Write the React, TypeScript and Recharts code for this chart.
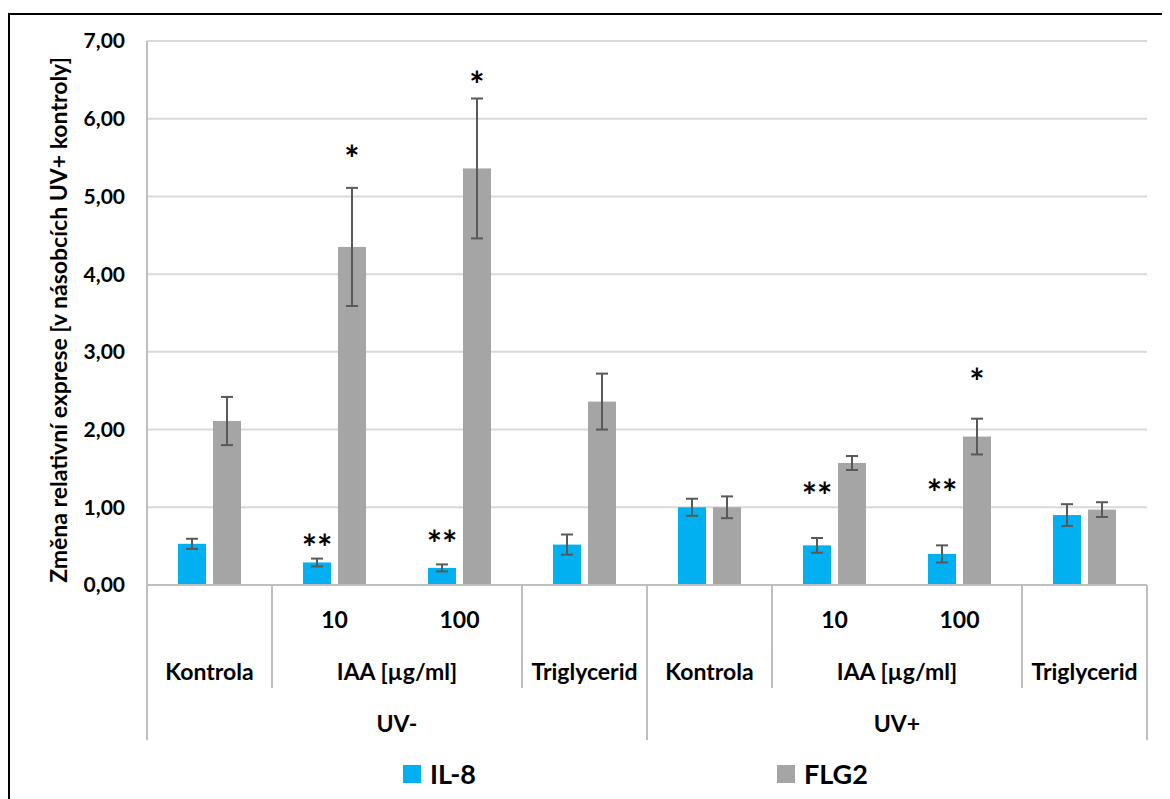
import React from 'react'
import {
  BarChart,
  Bar,
  XAxis,
  YAxis,
  CartesianGrid,
  ErrorBar,
  Legend,
} from 'recharts'

// category levels (innermost first)
const doses = ['', '10', '100', '', '', '10', '100', '']
const treatments = [
  'Kontrola',
  'IAA [µg/ml]',
  'IAA [µg/ml]',
  'Triglycerid',
  'Kontrola',
  'IAA [µg/ml]',
  'IAA [µg/ml]',
  'Triglycerid',
]
const uvGroups = ['UV-', 'UV-', 'UV-', 'UV-', 'UV+', 'UV+', 'UV+', 'UV+']

const il8 = [0.53, 0.29, 0.22, 0.52, 1.0, 0.51, 0.4, 0.9]
const il8Err = [0.065, 0.05, 0.045, 0.13, 0.11, 0.095, 0.11, 0.14]
const flg2 = [2.11, 4.35, 5.36, 2.36, 1.0, 1.57, 1.91, 0.97]
const flg2Err = [0.31, 0.76, 0.9, 0.36, 0.14, 0.09, 0.23, 0.095]

// significance marks and the level they sit at
const il8Stars = ['', '**', '**', '', '', '**', '**', '']
const il8StarAt = [0, 0.57, 0.62, 0, 0, 1.23, 1.28, 0]
const flg2Stars = ['', '*', '*', '', '', '', '*', '']
const flg2StarAt = [0, 5.57, 6.52, 0, 0, 0, 2.7, 0]

const yTicks = [0, 1, 2, 3, 4, 5, 6, 7]
const seriesOrder = ['IL-8', 'FLG2']

const data = doses.map((d, i) => ({
  dose: d,
  il8: il8[i],
  il8Err: il8Err[i],
  flg2: flg2[i],
  flg2Err: flg2Err[i],
  il8Star: il8Stars[i],
  il8StarAt: il8StarAt[i],
  flg2Star: flg2Stars[i],
  flg2StarAt: flg2StarAt[i],
}))

const FONT = 'Lato, "Open Sans", sans-serif'
const AXIS_GRAY = '#BFBFBF'

function starredBar(valueKey: string, starKey: string, atKey: string) {
  return (props: any) => {
    const { x, y, width, height, fill, payload } = props
    const v = payload[valueKey]
    const star = payload[starKey]
    let mark = null
    if (star && v) {
      const base = y + height
      const sy = base - (payload[atKey] / v) * height
      mark = (
        <text
          x={x + width / 2}
          y={sy + 20}
          textAnchor="middle"
          fontFamily={FONT}
          fontWeight={700}
          fontSize={36}
          fill="#000"
        >
          {star}
        </text>
      )
    }
    return (
      <g>
        <rect x={x} y={y} width={width} height={height} fill={fill} />
        {mark}
      </g>
    )
  }
}

function CategoryTick(props: any) {
  const { x, y, payload } = props
  const i = payload.index
  const half = payload.offset
  const n = doses.length
  const row1 = y + 35
  const row2 = y + 87
  const row3 = y + 139
  const shortEnd = y + 103
  const longEnd = y + 155
  const els: any[] = []
  const txt = { fontFamily: FONT, fontWeight: 700, fontSize: 23, fill: '#000', textAnchor: 'middle' as const }

  if (doses[i]) {
    els.push(
      <text key="d" x={x} y={row1} dy="0.35em" {...txt}>
        {doses[i]}
      </text>
    )
  }
  const newOuter = i === 0 || uvGroups[i] !== uvGroups[i - 1]
  const newMid = newOuter || treatments[i] !== treatments[i - 1]
  if (newMid) {
    let span = 1
    while (i + span < n && treatments[i + span] === treatments[i] && uvGroups[i + span] === uvGroups[i]) span++
    els.push(
      <text key="t" x={x + (span - 1) * half} y={row2} dy="0.35em" {...txt}>
        {treatments[i]}
      </text>
    )
    els.push(
      <line key="ls" x1={x - half} x2={x - half} y1={y} y2={newOuter ? longEnd : shortEnd} stroke={AXIS_GRAY} strokeWidth={2} />
    )
  }
  if (newOuter) {
    let span = 1
    while (i + span < n && uvGroups[i + span] === uvGroups[i]) span++
    els.push(
      <text key="u" x={x + (span - 1) * half} y={row3} dy="0.35em" {...txt}>
        {uvGroups[i]}
      </text>
    )
  }
  if (i === n - 1) {
    els.push(<line key="le" x1={x + half} x2={x + half} y1={y} y2={longEnd} stroke={AXIS_GRAY} strokeWidth={2} />)
  }
  return <g>{els}</g>
}

function LegendContent(props: any) {
  const items = [...(props.payload || [])].sort(
    (a: any, b: any) => seriesOrder.indexOf(a.value) - seriesOrder.indexOf(b.value)
  )
  return (
    <div style={{ height: 65, display: 'flex', alignItems: 'center', paddingLeft: 393, paddingTop: 2, boxSizing: 'border-box' }}>
      {items.map((p: any) => (
        <div key={p.value} style={{ width: 374, display: 'flex', alignItems: 'center' }}>
          <span style={{ width: 18, height: 18, background: p.color, display: 'inline-block', marginRight: 9 }} />
          <span style={{ fontFamily: FONT, fontWeight: 700, fontSize: 27, color: '#000' }}>{p.value}</span>
        </div>
      ))}
    </div>
  )
}

function YLabel(props: any) {
  const { viewBox } = props
  const cx = viewBox.x + 48
  const cy = viewBox.y + viewBox.height / 2 + 7
  return (
    <text
      x={cx}
      y={cy}
      transform={`rotate(-90, ${cx}, ${cy})`}
      textAnchor="middle"
      dominantBaseline="central"
      fontFamily={FONT}
      fontWeight={700}
      fontSize={23}
      fill="#000"
    >
      Změna relativní exprese [v násobcích UV+ kontroly]
    </text>
  )
}

export default function App() {
  return (
    <div
      style={{
        marginTop: 5,
        width: 1157,
        height: 800,
        border: '2px solid #000',
        background: '#fff',
      }}
    >
      <BarChart
        width={1157}
        height={790}
        data={data}
        margin={{ top: 26, right: 20, bottom: 0, left: 0 }}
        barSize={28}
        barGap={7}
      >
        <CartesianGrid vertical={false} stroke="#D9D9D9" strokeWidth={2} />
        <XAxis
          dataKey="dose"
          height={155}
          tickSize={0}
          tickMargin={0}
          tickLine={false}
          axisLine={{ stroke: AXIS_GRAY, strokeWidth: 2 }}
          tick={<CategoryTick />}
          interval={0}
        />
        <YAxis
          width={137}
          domain={[0, 7]}
          ticks={yTicks}
          tickFormatter={(v: number) => v.toFixed(2).replace('.', ',')}
          tickLine={false}
          tickSize={0}
          tickMargin={22}
          axisLine={{ stroke: AXIS_GRAY, strokeWidth: 2 }}
          tick={{ fontFamily: FONT, fontWeight: 700, fontSize: 21, fill: '#000' }}
          label={<YLabel />}
        />
        <YAxis
          yAxisId="right"
          orientation="right"
          width={0}
          domain={[0, 7]}
          tick={false}
          tickLine={false}
          axisLine={{ stroke: AXIS_GRAY, strokeWidth: 2 }}
        />
        <Legend verticalAlign="bottom" height={65} wrapperStyle={{ left: 0, width: 1157 }} content={<LegendContent />} />
        <Bar
          dataKey="il8"
          name="IL-8"
          fill="#00B0F0"
          isAnimationActive={false}
          shape={starredBar('il8', 'il8Star', 'il8StarAt')}
        >
          <ErrorBar dataKey="il8Err" width={6} strokeWidth={2} stroke="#595959" direction="y" />
        </Bar>
        <Bar
          dataKey="flg2"
          name="FLG2"
          fill="#A5A5A5"
          isAnimationActive={false}
          shape={starredBar('flg2', 'flg2Star', 'flg2StarAt')}
        >
          <ErrorBar dataKey="flg2Err" width={6} strokeWidth={2} stroke="#595959" direction="y" />
        </Bar>
      </BarChart>
    </div>
  )
}
